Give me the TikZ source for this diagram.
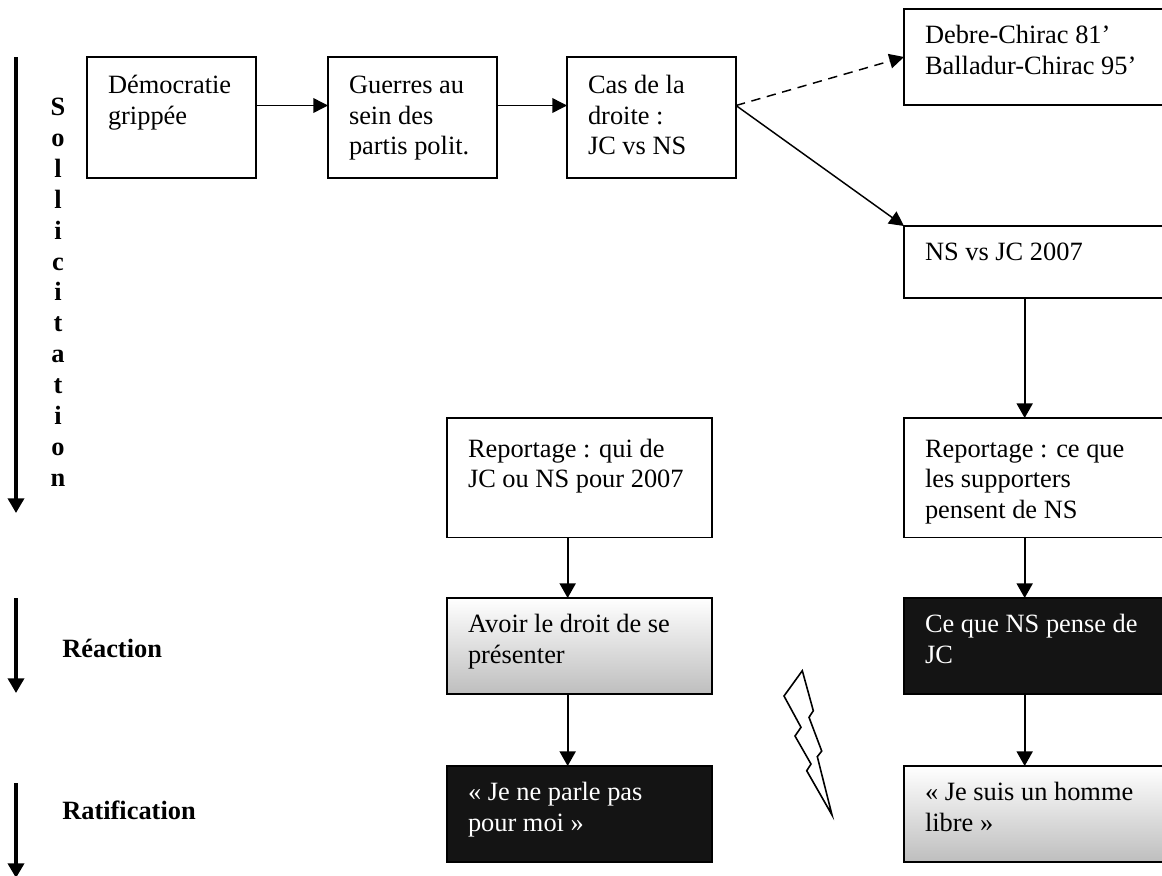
\documentclass[tikz,border=0pt]{standalone}
\usepackage{fontspec}
\setmainfont{Liberation Serif}
\usetikzlibrary{positioning}
\usetikzlibrary{arrows.meta}
\definecolor{boxblack}{HTML}{141414}
\definecolor{boxgray}{HTML}{BEBEBE}

\begin{document}
\begin{tikzpicture}[
x = 0.75pt, y = -0.75pt,
every node/.style = {font = \fontsize{19.8}{22.9}\selectfont},
plainbox/.style = {draw, line width = 1.25pt, outer sep = 0pt, inner ysep = 0pt, inner xsep = 15.75pt, align = flush left, text height = 26pt, text depth = 46pt},
topbox/.style = {plainbox, text width = 95.25pt, text height = 27.5pt, text depth = 63.25pt},
leftbox/.style = {plainbox, text width = 167.25pt},
rightbox/.style = {plainbox, text width = 190pt},
reportbox/.style = {text height = 29.5pt, text depth = 60pt},
shadedbox/.style = {shade, top color = white, middle color = white!85!boxgray, bottom color = boxgray},
blackbox/.style = {fill = boxblack, text = white},
sidelabel/.style = {font = \fontsize{19.8}{23.15}\selectfont\bfseries, inner sep = 0pt, align = center},
link/.style = {line width = 1.1pt, -{Triangle[length = 11pt, width = 11pt]}},
downlink/.style = {line width = 1.5pt, -{Triangle[length = 11pt, width = 12pt]}},
phase/.style = {line width = 2.6pt, -{Triangle[length = 11pt, width = 12pt]}}
]
\useasboundingbox (0,0) rectangle (1162,875);

% first row
\node[topbox, anchor = north west] (democratie) at (87,57) {Démocratie\\grippée};
\node[topbox, right = 54pt of democratie] (guerres) {Guerres au\\sein des\\partis polit.};
\node[topbox, right = 52.5pt of guerres] (droite) {Cas de la\\droite :\\JC vs NS};

% right column
\node[rightbox, anchor = north west] (debre) at (904,9) {Debre-Chirac 81’\\Balladur-Chirac 95’};
\node[rightbox, text depth = 28pt, below = 90.75pt of debre] (nsjc) {NS vs JC 2007};
\node[rightbox, reportbox, below = 90pt of nsjc] (repns) {Reportage : ce que\\les supporters\\pensent de NS};
\node[rightbox, blackbox, below = 45.5pt of repns] (pense) {Ce que NS pense de\\JC};
\node[rightbox, shadedbox, below = 54pt of pense] (libre) {« Je suis un homme\\libre »};

% left column
\node[leftbox, reportbox, anchor = north west] (repjc) at (447,418) {Reportage : qui de\\JC ou NS pour 2007};
\node[leftbox, shadedbox, below = 45.5pt of repjc] (droit) {Avoir le droit de se\\présenter};
\node[leftbox, blackbox, below = 54pt of droit] (parle) {« Je ne parle pas\\pour moi »};

% side labels
\node[sidelabel, anchor = north] (solli) at (58,98) {S\\o\\l\\l\\i\\c\\i\\t\\a\\t\\i\\o\\n};
\node[sidelabel, anchor = west] (reaction) at (62,648) {Réaction};
\node[sidelabel, anchor = west] (ratif) at (62,810) {Ratification};

\coordinate (sollitop) at (16,57);
\coordinate (sollibot) at (16,513);
\coordinate (reacttop) at (16,598);
\coordinate (reactbot) at (16,693);
\coordinate (ratiftop) at (16,783);
\coordinate (ratifbot) at (16,878);

\draw[phase] (sollitop) -- (sollibot);
\draw[phase] (reacttop) -- (reactbot);
\draw[phase] (ratiftop) -- (ratifbot);

\draw[link] ([yshift = 9pt]democratie.east) -- ([yshift = 9pt]guerres.west);
\draw[link] ([yshift = 9pt]guerres.east) -- ([yshift = 9pt]droite.west);
\draw[link, dash pattern = on 7pt off 5pt] ([yshift = 9pt]droite.east) -- (debre.west);
\draw[link] ([yshift = 9pt]droite.east) -- (nsjc.north west);
\foreach \from/\to in {nsjc/repns, repns/pense, pense/libre, repjc/droit, droit/parle}
    \draw[downlink] ([xshift = 90.5pt]\from.south west) -- ([xshift = 90.5pt]\to.north west);

% flash between the two columns
\draw[line width = 1.2pt, line join = miter] (802.3,670.7) -- (784,696) -- (801,727.3) -- (795,736) -- (811,764) -- (806.7,770.7) -- (832,815) -- (817.3,756.7) -- (821.7,751) -- (809,717.3) -- (813.3,710.7) -- cycle;
\end{tikzpicture}
\end{document}
